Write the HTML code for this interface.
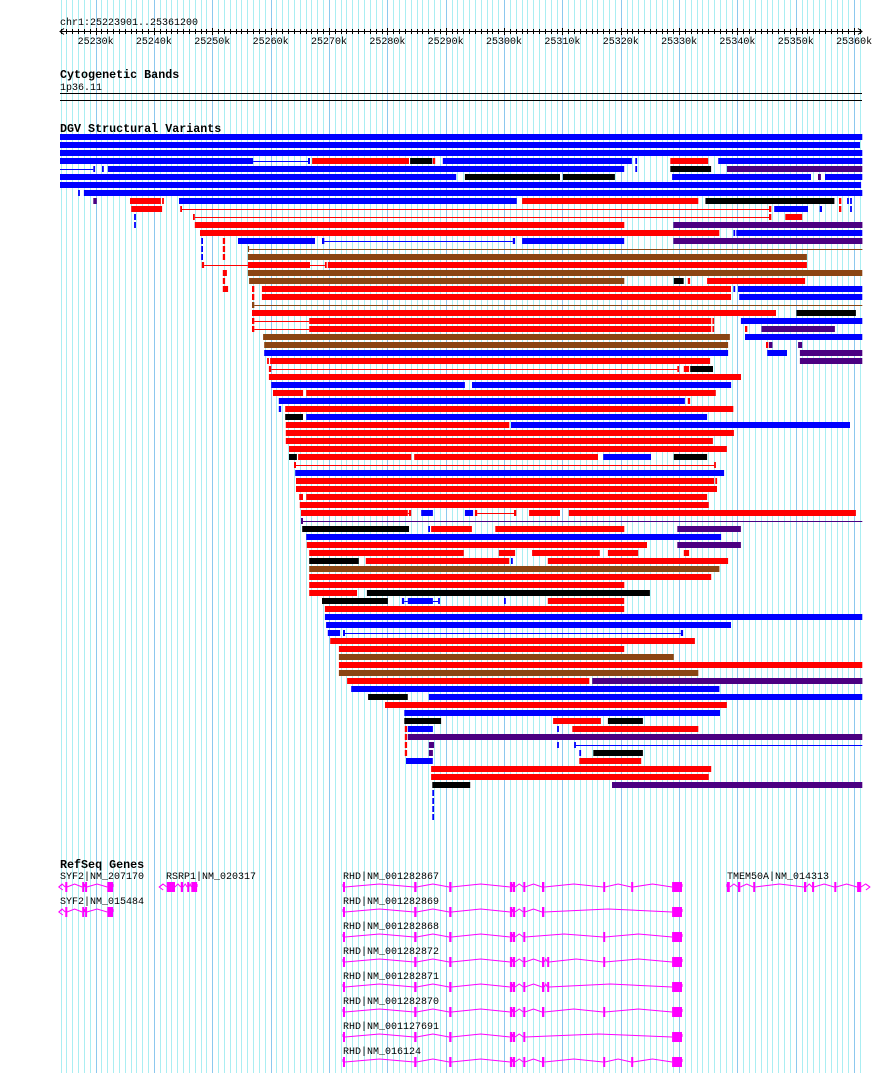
<!DOCTYPE html>
<html><head><meta charset="utf-8">
<style>
html,body{margin:0;padding:0;background:#fff;}
svg{display:block;}
text{font-family:"Liberation Mono",monospace;font-size:10px;fill:#000;}
.title{font-weight:bold;font-size:11.7px;}
</style></head>
<body>
<svg id="chart" width="890" height="1073" viewBox="0 0 890 1073" xmlns="http://www.w3.org/2000/svg">
<g id="grid"></g>
<g id="ruler">
<text x="60" y="25">chr1:25223901..25361200</text>
</g>
<g id="cyto">
<text class="title" x="60" y="78">Cytogenetic Bands</text>
<text x="60" y="90">1p36.11</text>
<rect x="60" y="93" width="802" height="1" fill="#000"/>
<rect x="60" y="100" width="802" height="1" fill="#000"/>
</g>
<g id="dgv">
<text class="title" x="60" y="132">DGV Structural Variants</text>
</g>
<g id="genes">
<text class="title" x="60" y="868">RefSeq Genes</text>
</g>
</svg>
<script>
// view: chr1 25223.901 kb .. 25361.200 kb ; values below are kb minus 25200
const BASE_KB = 25200;
const viewStart = 23.9, viewEnd = 161.4;
const tickLabelsKb = [30,40,50,60,70,80,90,100,110,120,130,140,150,160];
const colorCodes = {B:'#0000ff',R:'#ff0000',K:'#000000',P:'#4b0082',N:'#8b4513'};
// [row, start, end, color, kind(b=block,l=line)]
const variantSegments = [
[0,23.9,161.4,'B','b'],[1,23.9,161.0,'B','b'],[2,23.9,161.4,'B','b'],
[3,23.9,57.0,'B','b'],[3,57.0,66.6,'B','l'],[3,66.4,66.75,'B','b'],[3,67.1,83.7,'R','b'],[3,83.9,87.7,'K','b'],[3,87.8,88.2,'R','b'],[3,89.5,121.9,'B','b'],[3,122.5,122.8,'B','b'],[3,128.5,135.0,'R','b'],[3,136.7,161.4,'B','b'],
[4,23.9,29.6,'B','l'],[4,29.6,29.9,'B','b'],[4,31.1,31.4,'B','b'],[4,32.1,120.6,'B','b'],[4,122.5,122.8,'B','b'],[4,128.5,135.5,'K','b'],[4,138.2,161.4,'P','b'],
[5,23.9,91.8,'B','b'],[5,93.3,109.6,'K','b'],[5,110.1,119.0,'K','b'],[5,128.8,152.6,'B','b'],[5,153.8,154.3,'P','b'],[5,155.0,161.4,'B','b'],
[6,23.9,161.2,'B','b'],
[7,27.0,27.3,'B','b'],[7,28.0,161.4,'B','b'],
[8,29.6,30.2,'P','b'],[8,35.9,41.2,'R','b'],[8,41.4,41.7,'R','b'],[8,44.3,102.2,'B','b'],[8,103.1,133.3,'R','b'],[8,134.5,156.6,'K','b'],[8,157.4,157.8,'R','b'],[8,158.8,159.1,'B','b'],[8,159.3,159.6,'B','b'],
[9,36.1,41.4,'R','b'],[9,44.5,44.8,'R','b'],[9,44.8,145.4,'R','l'],[9,145.4,145.8,'R','b'],[9,146.3,152.1,'B','b'],[9,154.1,154.5,'B','b'],[9,157.4,157.8,'R','b'],[9,159.3,159.6,'B','b'],
[10,36.6,36.9,'B','b'],[10,46.7,47.0,'R','b'],[10,47.0,145.4,'R','l'],[10,145.4,145.8,'R','b'],[10,148.2,151.1,'R','b'],
[11,36.6,36.9,'B','b'],[11,47.0,120.6,'R','b'],[11,129.0,161.4,'P','b'],
[12,47.9,136.9,'R','b'],[12,139.3,139.6,'B','b'],[12,139.8,161.4,'B','b'],
[13,48.1,48.4,'B','b'],[13,51.8,52.2,'R','b'],[13,54.4,67.6,'B','b'],[13,68.8,69.2,'B','b'],[13,69.2,101.5,'B','l'],[13,101.5,101.9,'B','b'],[13,103.1,120.6,'B','b'],[13,129.0,161.4,'P','b'],
[14,48.1,48.4,'B','b'],[14,51.8,52.2,'R','b'],[14,56.1,56.3,'N','b'],[14,56.3,161.4,'N','l'],
[15,48.1,48.4,'B','b'],[15,51.8,52.2,'R','b'],[15,56.1,151.9,'N','b'],
[16,48.2,48.6,'R','b'],[16,48.6,56.1,'R','l'],[16,56.1,66.75,'R','b'],[16,66.75,69.3,'R','l'],[16,69.3,69.6,'R','b'],[16,69.8,151.9,'R','b'],
[17,51.8,52.5,'R','b'],[17,56.1,161.4,'N','b'],
[18,51.8,52.2,'R','b'],[18,56.3,120.6,'N','b'],[18,129.1,130.8,'K','b'],[18,131.5,131.9,'R','b'],[18,134.8,151.6,'R','b'],
[19,51.8,52.7,'R','b'],[19,56.8,57.2,'R','b'],[19,58.5,138.9,'R','b'],[19,139.3,139.6,'B','b'],[19,140.1,161.4,'B','b'],
[20,56.8,57.2,'R','b'],[20,58.5,138.9,'R','b'],[20,140.3,161.4,'B','b'],
[21,56.8,57.2,'N','b'],[21,57.2,161.4,'N','l'],
[22,56.8,146.6,'R','b'],[22,150.1,160.3,'K','b'],
[23,56.8,57.2,'R','b'],[23,57.2,66.6,'R','l'],[23,66.6,135.5,'R','b'],[23,135.7,136.0,'R','b'],[23,140.6,161.4,'B','b'],
[24,56.8,57.2,'R','b'],[24,57.2,66.6,'R','l'],[24,66.6,135.5,'R','b'],[24,135.7,136.0,'R','b'],[24,141.3,141.7,'R','b'],[24,144.1,156.7,'P','b'],
[25,58.7,138.7,'N','b'],[25,141.3,161.4,'B','b'],
[26,58.9,138.4,'N','b'],[26,144.9,145.3,'R','b'],[26,145.4,146.0,'P','b'],[26,150.4,151.1,'P','b'],
[27,58.9,138.4,'B','b'],[27,145.1,148.5,'B','b'],[27,150.7,161.4,'P','b'],
[28,59.4,59.7,'R','b'],[28,59.9,135.3,'R','b'],[28,150.7,161.4,'P','b'],
[29,59.7,60.1,'R','b'],[29,60.1,129.7,'R','l'],[29,129.7,130.0,'R','b'],[29,130.8,131.7,'R','b'],[29,131.9,135.8,'K','b'],
[30,59.7,140.6,'R','b'],
[31,60.1,93.3,'B','b'],[31,94.5,138.9,'B','b'],
[32,60.4,65.55,'R','b'],[32,66.1,136.3,'R','b'],
[33,61.4,131.0,'B','b'],[33,131.5,131.9,'R','b'],
[34,61.4,61.8,'B','b'],[34,62.5,139.3,'R','b'],
[35,62.5,65.55,'K','b'],[35,66.1,134.8,'B','b'],
[36,62.6,100.9,'R','b'],[36,101.2,159.3,'B','b'],
[37,62.6,139.4,'R','b'],
[38,62.6,135.8,'R','b'],
[39,63.15,138.2,'R','b'],
[40,63.15,64.5,'K','b'],[40,64.7,84.1,'R','b'],[40,84.6,116.1,'R','b'],[40,117.0,125.2,'B','b'],[40,129.1,134.8,'K','b'],
[41,64.0,64.35,'R','b'],[41,64.35,136.0,'R','l'],[41,136.0,136.3,'R','b'],
[42,64.2,137.7,'B','b'],
[43,64.35,136.0,'R','b'],[43,136.2,136.5,'R','b'],
[44,64.35,136.5,'R','b'],
[45,64.9,65.55,'R','b'],[45,66.1,134.8,'R','b'],
[46,65.0,135.1,'R','b'],
[47,65.2,83.5,'R','b'],[47,83.5,83.7,'R','l'],[47,83.7,84.1,'R','b'],[47,85.8,87.8,'B','b'],[47,93.3,94.7,'B','b'],[47,95.0,95.4,'R','b'],[47,95.4,101.7,'R','l'],[47,101.7,102.1,'R','b'],[47,104.3,109.6,'R','b'],[47,111.1,160.3,'R','b'],
[48,65.2,65.55,'P','b'],[48,65.55,161.4,'P','l'],
[49,65.4,83.7,'K','b'],[49,87.0,87.3,'B','b'],[49,87.5,94.5,'R','b'],[49,98.5,120.6,'R','b'],[49,129.7,140.6,'P','b'],
[50,66.1,137.2,'B','b'],
[51,66.2,124.5,'R','b'],[51,129.7,140.6,'P','b'],
[52,66.6,93.1,'R','b'],[52,99.1,101.9,'R','b'],[52,104.8,116.4,'R','b'],[52,117.8,123.0,'R','b'],[52,130.8,131.7,'R','b'],
[53,66.6,75.1,'K','b'],[53,76.3,100.9,'R','b'],[53,101.2,101.5,'B','b'],[53,107.5,138.4,'R','b'],
[54,66.6,136.9,'N','b'],
[55,66.6,135.5,'R','b'],
[56,66.6,120.6,'R','b'],
[57,66.6,74.8,'R','b'],[57,76.5,125.0,'K','b'],
[58,68.8,80.1,'K','b'],[58,82.5,82.9,'B','b'],[58,82.9,83.5,'B','l'],[58,83.5,87.8,'B','b'],[58,87.8,88.7,'B','l'],[58,88.7,89.0,'B','b'],[58,100.0,100.3,'B','b'],[58,107.5,120.6,'R','b'],
[59,69.3,120.6,'R','b'],
[60,69.3,161.4,'B','b'],
[61,69.5,138.9,'B','b'],
[62,69.8,71.9,'B','b'],[62,72.4,72.75,'B','b'],[62,72.75,130.3,'B','l'],[62,130.3,130.7,'B','b'],
[63,70.2,132.7,'R','b'],
[64,71.7,120.6,'R','b'],
[65,71.7,129.1,'N','b'],
[66,71.7,161.4,'R','b'],
[67,71.7,133.3,'N','b'],
[68,73.1,114.6,'R','b'],[68,115.1,161.4,'P','b'],
[69,73.8,136.9,'B','b'],
[70,76.7,83.5,'K','b'],[70,87.1,161.4,'B','b'],
[71,79.6,138.2,'R','b'],
[72,82.9,137.0,'B','b'],
[73,82.9,89.2,'K','b'],[73,108.4,116.6,'R','b'],[73,117.8,123.8,'K','b'],
[74,83.0,83.4,'R','b'],[74,83.5,87.8,'B','b'],[74,109.1,109.4,'B','b'],[74,111.7,133.3,'R','b'],
[75,83.0,83.4,'R','b'],[75,83.5,161.4,'P','b'],
[76,83.0,83.4,'R','b'],[76,87.1,88.0,'P','b'],[76,109.1,109.4,'B','b'],[76,112.0,112.3,'B','b'],[76,112.3,161.4,'B','l'],
[77,83.0,83.4,'R','b'],[77,87.1,87.8,'P','b'],[77,112.9,113.2,'B','b'],[77,115.3,123.8,'K','b'],
[78,83.2,87.8,'B','b'],[78,112.9,123.5,'R','b'],
[79,87.5,135.5,'R','b'],
[80,87.5,135.1,'R','b'],
[81,87.7,94.2,'K','b'],[81,118.5,161.4,'P','b'],
[82,87.7,88.0,'B','b'],[83,87.7,88.0,'B','b'],[84,87.7,88.0,'B','b'],[85,87.7,88.0,'B','b']
];
// genes
const geneNames = ['SYF2|NM_207170','RSRP1|NM_020317','RHD|NM_001282867','TMEM50A|NM_014313','SYF2|NM_015484',
 'RHD|NM_001282869','RHD|NM_001282868','RHD|NM_001282872','RHD|NM_001282871','RHD|NM_001282870','RHD|NM_001127691','RHD|NM_016124'];
const geneRows = [0,0,0,0,1,1,2,3,4,5,6,7];
const geneStrand = [-1,-1,1,1,-1,1,1,1,1,1,1,1];
const syf2Exons = [[24.8,25.1],[27.7,28.0],[28.2,28.5],[32.0,33.0]];
const rsrp1Exons = [[42.2,43.6],[44.6,45.0],[45.7,46.0],[46.4,47.4]];
const tmemExons = [[138.2,138.7],[140.1,140.5],[142.7,143.0],[151.4,151.8],[152.8,153.1],[156.6,156.9],[160.5,161.2]];
const rhdExonPool = [[72.4,72.75],[84.6,85.0],[90.6,91.0],[101.0,101.4],[101.5,101.9],[103.3,103.6],[106.5,106.9],[117.0,117.3],[121.8,122.1],[128.8,130.5],[107.4,107.7]];
const rhdSets = {
 'RHD|NM_001282867':[0,1,2,3,4,5,6,7,8,9],'RHD|NM_001282869':[0,1,2,3,4,5,6,9],
 'RHD|NM_001282868':[0,1,2,3,4,5,7,9],'RHD|NM_001282872':[0,1,2,3,4,5,6,10,7,9],
 'RHD|NM_001282871':[0,1,2,3,4,5,6,10,9],'RHD|NM_001282870':[0,1,2,3,4,5,6,7,9],
 'RHD|NM_001127691':[0,1,2,3,4,5,9],'RHD|NM_016124':[0,1,2,3,4,5,6,7,8,9]};
const geneSpan = {'SYF2':[23.7,33.0],'RSRP1':[40.9,47.4],'RHD':[72.4,130.5],'TMEM50A':[138.2,162.7]};

const NS='http://www.w3.org/2000/svg';
const X0=60, PXPERKB=5.835;
function xs(kb){return X0+(kb-viewStart)*PXPERKB;}
function el(tag,attrs,parent){const e=document.createElementNS(NS,tag);for(const k in attrs)e.setAttribute(k,attrs[k]);parent.appendChild(e);return e;}
const grid=document.getElementById('grid'),ruler=document.getElementById('ruler'),dgv=document.getElementById('dgv'),genes=document.getElementById('genes');

// grid & ruler ticks
for(let kb=Math.ceil(viewStart);kb<=Math.floor(viewEnd);kb++){
  const x=Math.round(xs(kb))+0.5, major=kb%10===0;
  const g=el('line',{x1:x,x2:x,y1:0,y2:1073,stroke:major?'#8cc8ee':'#aaeef2','stroke-width':1},grid);
  
  
  const t=el('line',{x1:x,x2:x,y1:major?28:29,y2:major?35:34,stroke:'#000','stroke-width':1},ruler);
  
  
}
const rl=el('line',{x1:60,x2:862,y1:31.5,y2:31.5,stroke:'#000','stroke-width':1},ruler);


const a1=el('path',{d:'M64,28.5 L60,31.5 L64,34.5',fill:'none',stroke:'#000'},ruler);


const a2=el('path',{d:'M858,28.5 L862,31.5 L858,34.5',fill:'none',stroke:'#000'},ruler);


tickLabelsKb.forEach(kb=>{
  const t=el('text',{x:xs(kb),y:44,'text-anchor':'middle'},ruler);
  t.textContent=(BASE_KB+kb)+'k';
  
  
});

// DGV variants
variantSegments.forEach(s=>{
  const [row,a,b,c,kind]=s; const y=134+row*8;
  const x1=xs(a), w=Math.max(1,xs(b)-x1);
  let r;
  if(kind==='b') r=el('rect',{x:x1.toFixed(1),y:y,width:w.toFixed(1),height:6,fill:colorCodes[c]},dgv);
  else r=el('rect',{x:x1.toFixed(1),y:y+3,width:w.toFixed(1),height:1,fill:colorCodes[c]},dgv);
  
  
});

// genes
const MAG='#ff00ff';
geneNames.forEach((name,i)=>{
  const row=geneRows[i], base=name.split('|')[0];
  const span=geneSpan[base];
  let exons;
  if(base==='SYF2') exons=syf2Exons; else if(base==='RSRP1') exons=rsrp1Exons; else if(base==='TMEM50A') exons=tmemExons;
  else exons=rhdSets[name].map(k=>rhdExonPool[k]).sort((p,q)=>p[0]-q[0]);
  const lx = base==='SYF2'?60:(base==='RSRP1'?166:(base==='TMEM50A'?727:343));
  const tl=el('text',{x:lx,y:879+row*25},genes);
  tl.textContent=name;
  
  
  const cy=887+row*25;
  const g=el('g',{},genes);
  
  
  // introns
  let prev=span[0]; const pts=[];
  const bounds=[[span[0],span[0]]].concat(exons).concat([[span[1],span[1]]]);
  for(let k=0;k<bounds.length-1;k++){
    const e1=xs(bounds[k][1]), s2=xs(bounds[k+1][0]);
    pts.push(`M${e1.toFixed(1)},${cy} L${((e1+s2)/2).toFixed(1)},${cy-3} L${s2.toFixed(1)},${cy}`);
  }
  const p=el('path',{d:pts.join(' '),fill:'none',stroke:MAG,'stroke-width':1},g);
  
  
  exons.forEach(e=>{
    const x1=xs(e[0]), w=Math.max(2,xs(e[1])-x1);
    const r=el('rect',{x:x1.toFixed(1),y:cy-5,width:w.toFixed(1),height:10,fill:MAG},g);
    
    
  });
  // start cap / strand arrow
  const sx=xs(span[0]), ex=xs(span[1]);
  if(geneStrand[i]<0){
    const ar=el('path',{d:`M${sx+4},${cy-3} L${sx},${cy} L${sx+4},${cy+3}`,fill:'none',stroke:MAG},g);
    
    
  } else if(base==='TMEM50A'){
    const ar=el('path',{d:`M${ex-4},${cy-3} L${ex},${cy} L${ex-4},${cy+3}`,fill:'none',stroke:MAG},g);
    
    
  }
});
</script>
</body></html>
